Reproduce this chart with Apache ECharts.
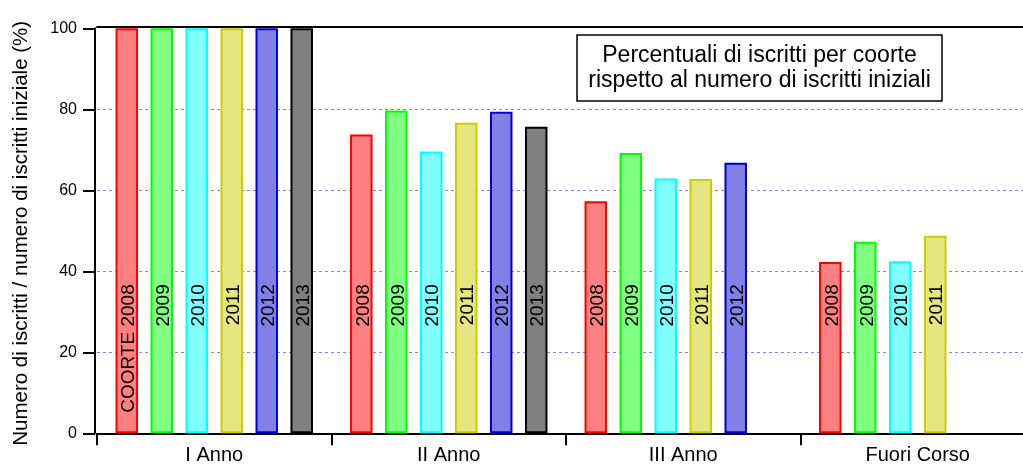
<!DOCTYPE html>
<html>
<head>
<meta charset="utf-8">
<script src="https://cdn.jsdelivr.net/npm/echarts@6/dist/echarts.min.js"></script>
<style>
html,body{margin:0;padding:0;background:#fff;}
#chart{width:1023px;height:465px;}
</style>
</head>
<body>
<div id="chart"></div>
<script>
const categories = ['I Anno', 'II Anno', 'III Anno', 'Fuori Corso'];
const cohorts = ['2008', '2009', '2010', '2011', '2012', '2013'];
const v2008 = [100, 73.8, 57.3, 42.3];
const v2009 = [100, 79.7, 69.2, 47.3];
const v2010 = [100, 69.6, 62.9, 42.5];
const v2011 = [100, 76.7, 62.8, 48.8];
const v2012 = [100, 79.4, 66.8, null];
const v2013 = [100, 75.7, null, null];
const seriesValues = [v2008, v2009, v2010, v2011, v2012, v2013];
const yTicks = [0, 20, 40, 60, 80, 100];
const firstLabelPrefix = 'COORTE ';
const yTitle = 'Numero di iscritti / numero di iscritti iniziale (%)';
const boxText = 'Percentuali di iscritti per coorte\nrispetto al numero di iscritti iniziali';

const borderColors = ['#ff0000', '#00ff00', '#00ffff', '#cccc00', '#0000cc', '#000000'];
const fillColors = ['#ff8080', '#80ff80', '#80ffff', '#e6e680', '#8080e6', '#808080'];
const FONT = "'Liberation Sans', Arial, sans-serif";

const chart = echarts.init(document.getElementById('chart'), null, {renderer: 'canvas'});

const series = cohorts.map((name, i) => ({
  name: name,
  type: 'bar',
  data: seriesValues[i],
  barWidth: 22.5,
  barGap: '55.5%',
  itemStyle: {color: fillColors[i], borderColor: borderColors[i], borderWidth: 2},
  label: {
    show: true,
    position: 'insideBottom',
    distance: 0,
    rotate: 90,
    align: 'right',
    verticalAlign: 'middle',
    offset: [149, 2],
    color: '#000',
    fontFamily: FONT,
    fontSize: 19,
    formatter: p => (i === 0 && p.dataIndex === 0 ? firstLabelPrefix : '') + p.seriesName
  },
  emphasis: {disabled: true},
  animation: false
}));

chart.setOption({
  animation: false,
  grid: {left: 97, width: 938, top: 28.3, bottom: 31.7, outerBoundsMode: 'none', containLabel: false},
  xAxis: [{
    type: 'category',
    data: categories,
    offset: 2,
    axisLine: {lineStyle: {color: '#000', width: 2}},
    axisTick: {show: true, length: 12, lineStyle: {color: '#000', width: 2}},
    axisLabel: {color: '#000', fontFamily: FONT, fontSize: 20, margin: 10},
    splitLine: {show: false}
  }, {
    type: 'category',
    data: categories,
    position: 'top',
    offset: 2,
    axisLine: {lineStyle: {color: '#000', width: 2}},
    axisTick: {show: false},
    axisLabel: {show: false}
  }],
  yAxis: {
    type: 'value',
    min: yTicks[0],
    max: yTicks[yTicks.length - 1],
    interval: 20,
    offset: 2,
    name: yTitle,
    nameLocation: 'middle',
    nameGap: 63,
    nameTextStyle: {color: '#000', fontFamily: FONT, fontSize: 20.5, padding: [0, 5, 0, 0]},
    axisLine: {show: true, lineStyle: {color: '#000', width: 2}},
    axisTick: {show: true, length: 12, lineStyle: {color: '#000', width: 2}},
    axisLabel: {color: '#000', fontFamily: FONT, fontSize: 16, margin: 18},
    splitLine: {show: true, showMinLine: false, showMaxLine: false, lineStyle: {color: '#8080ff', type: [3, 3], width: 1}}
  },
  graphic: [{
    type: 'rect',
    shape: {x: 577, y: 35, width: 365, height: 66},
    style: {fill: '#fff', stroke: '#000', lineWidth: 1.5},
    z: 100
  }, {
    type: 'text',
    x: 759.5,
    y: 68,
    style: {text: boxText, fill: '#000', font: '23px ' + FONT, align: 'center', verticalAlign: 'middle', lineHeight: 25},
    z: 101
  }],
  series: series
});
</script>
</body>
</html>
